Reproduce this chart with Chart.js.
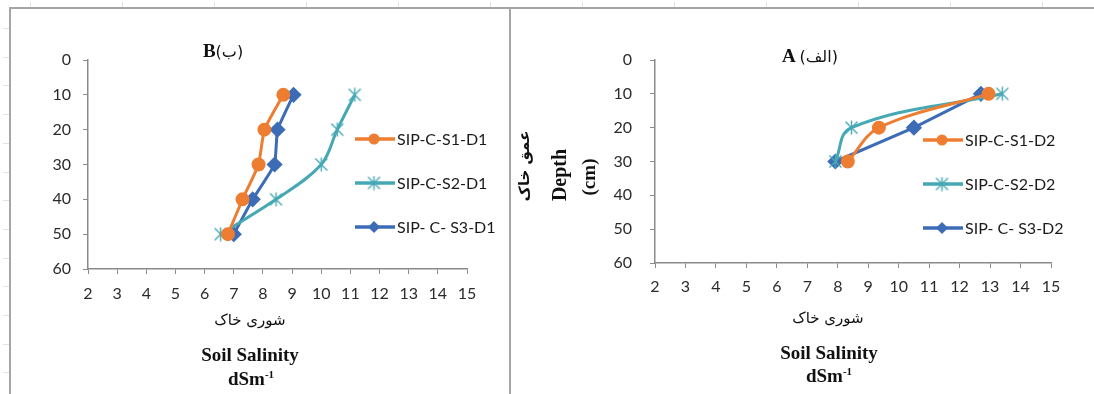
<!DOCTYPE html>
<html>
<head>
<meta charset="utf-8">
<script src="https://cdn.jsdelivr.net/npm/chart.js@4.4.1/dist/chart.umd.min.js"></script>
<style>
  body { margin: 0; width: 1094px; height: 394px; background: #fff; position: relative; overflow: hidden; font-family: "Liberation Serif", serif; }
  canvas { position: absolute; top: 0; }
  .lbl { position: absolute; transform: translate(-50%, -50%); white-space: nowrap; color: #111; line-height: 1; }
  .b { font-weight: bold; font-size: 19px; }
  .fa { font-family: "DejaVu Sans", sans-serif; font-size: 15px; }
  .par { font-family: "DejaVu Sans", sans-serif; font-size: 16px; font-weight: normal; }
  .rot { transform: translate(-50%, -50%) rotate(-90deg); }
  sup { font-size: 11px; vertical-align: 7px; line-height: 0; }
  .line { position: absolute; background: #a5a5a5; }
  .mark { position: absolute; background: #e2e2e2; }
</style>
</head>
<body>
<div class="line" style="left:9px; top:7px; width:1085px; height:2px;"></div>
<div class="line" style="left:9px; top:7px; width:2px; height:387px;"></div>
<div class="line" style="left:509px; top:7px; width:2px; height:387px;"></div>

<canvas id="chartB" width="510" height="394" style="left:0"></canvas>
<canvas id="chartA" width="583" height="394" style="left:511px"></canvas>

<!-- titles and axis labels -->
<div class="lbl b" style="left:223px; top:50px;">B<span class="par">(ب)</span></div>
<div class="lbl fa" style="left:250px; top:320px;">شوری خاک</div>
<div class="lbl b" style="left:250px; top:354px;">Soil Salinity</div>
<div class="lbl b" style="left:251px; top:378px;">dSm<sup>-1</sup></div>

<div class="lbl b" style="left:810px; top:55px;">A <span class="par">(الف)</span></div>
<div class="lbl fa" style="left:828px; top:318px;">شوری خاک</div>
<div class="lbl b" style="left:829px; top:352px;">Soil Salinity</div>
<div class="lbl b" style="left:829px; top:375px;">dSm<sup>-1</sup></div>

<div class="lbl fa rot" style="left:524px; top:166px; font-weight:bold;">عمق خاک</div>
<div class="lbl b rot" style="left:559px; top:175px; font-size:20px;">Depth</div>
<div class="lbl b rot" style="left:588px; top:177px;">(cm)</div>

<script>
// ===== Data =====
const salinityMin = 2, salinityMax = 15;
const depthMin = 0, depthMax = 60;

// panel B (D1)
const depthB = [10, 20, 30, 40, 50];
const s1B = [8.7, 8.05, 7.85, 7.3, 6.8];
const s2B = [11.15, 10.55, 10.0, 8.45, 6.55];
const s3B = [9.05, 8.5, 8.4, 7.65, 7.0];
const labelsB = ["SIP-C-S1-D1", "SIP-C-S2-D1", "SIP- C- S3-D1"];

// panel A (D2)
const depthA = [10, 20, 30];
const s1A = [12.95, 9.35, 8.33];
const s2A = [13.4, 8.45, 7.92];
const s3A = [12.7, 10.5, 7.92];
const labelsA = ["SIP-C-S1-D2", "SIP-C-S2-D2", "SIP- C- S3-D2"];

const ORANGE = "#ED7D31";
const TEAL = "#45A8B4";
const BLUE = "#3C6CB6";

// faint spreadsheet marks on the frame
for (let k = 0; k < 12; k++) {
  const m = document.createElement("div");
  m.className = "mark";
  m.style.cssText = `left:${30 + k * 92}px; top:2px; width:1px; height:5px;`;
  document.body.appendChild(m);
}
for (let k = 0; k < 13; k++) {
  const m = document.createElement("div");
  m.className = "mark";
  m.style.cssText = `left:3px; top:${28 + k * 28.7}px; width:6px; height:1px;`;
  document.body.appendChild(m);
}

// excel-like star marker (vertical line + X)
function starImage(color) {
  const c = document.createElement("canvas");
  c.width = 15; c.height = 15;
  const g = c.getContext("2d");
  g.strokeStyle = color; g.lineWidth = 1.4;
  g.beginPath();
  g.moveTo(7.5, 0.5); g.lineTo(7.5, 14.5);
  g.moveTo(1.5, 1.5); g.lineTo(13.5, 13.5);
  g.moveTo(13.5, 1.5); g.lineTo(1.5, 13.5);
  g.stroke();
  return c;
}
const tealStar = starImage(TEAL);

function pts(xs, ys) {
  return xs.map((x, i) => ({ x: x, y: ys[i] }));
}

function makeSets(labels, depth, a, b, c, tension) {
  return [
    { label: labels[0], data: pts(a, depth), borderColor: ORANGE, backgroundColor: ORANGE,
      pointStyle: "circle", pointRadius: 5.5, borderWidth: 3, tension: tension[0] },
    { label: labels[1], data: pts(b, depth), borderColor: TEAL, backgroundColor: TEAL,
      pointStyle: tealStar, pointRadius: 7, borderWidth: 3, tension: tension[1] },
    { label: labels[2], data: pts(c, depth), borderColor: BLUE, backgroundColor: BLUE,
      pointStyle: "rectRot", pointRadius: 6, borderWidth: 3, tension: tension[2] },
  ];
}

// ===== Legend drawn as line + marker, like the spreadsheet =====
const lineLegend = {
  id: "lineLegend",
  afterDraw(chart, args, opts) {
    const ctx = chart.ctx;
    chart.data.datasets.forEach((ds, i) => {
      const x = opts.left;
      const y = opts.top + i * opts.gap;
      ctx.save();
      ctx.strokeStyle = ds.borderColor;
      ctx.lineWidth = 3.5;
      ctx.beginPath();
      ctx.moveTo(x, y);
      ctx.lineTo(x + 40, y);
      ctx.stroke();
      const mx = x + 19;
      ctx.fillStyle = ds.borderColor;
      if (ds.pointStyle === "circle") {
        ctx.beginPath();
        ctx.arc(mx, y, 5.5, 0, Math.PI * 2);
        ctx.fill();
      } else if (ds.pointStyle === "rectRot") {
        ctx.beginPath();
        ctx.moveTo(mx, y - 6); ctx.lineTo(mx + 6, y); ctx.lineTo(mx, y + 6); ctx.lineTo(mx - 6, y);
        ctx.closePath();
        ctx.fill();
      } else {
        ctx.drawImage(ds.pointStyle, mx - 7.5, y - 7.5);
      }
      ctx.fillStyle = "#1a1a1a";
      ctx.font = "16px Lato";
      ctx.textBaseline = "middle";
      ctx.fillText(ds.label, x + 42, y + 1);
      ctx.restore();
    });
  },
};

function axes(yWidth, xHeight, yPad, xPad) {
  const tickFont = { family: "Lato", size: 16 };
  return {
    x: {
      type: "linear", min: salinityMin, max: salinityMax,
      ticks: { stepSize: 1, color: "#2b2b2b", font: tickFont, padding: xPad },
      grid: { drawOnChartArea: false, drawTicks: true, tickLength: 5, color: "#8a8a8a" },
      border: { color: "#8a8a8a", width: 1.5 },
      afterFit: (s) => { s.height = xHeight; },
    },
    y: {
      type: "linear", reverse: true, min: depthMin, max: depthMax,
      ticks: { stepSize: 10, color: "#2b2b2b", font: tickFont, padding: yPad },
      grid: { drawOnChartArea: false, drawTicks: true, tickLength: 5, color: "#8a8a8a" },
      border: { color: "#8a8a8a", width: 1.5 },
      afterFit: (s) => { s.width = yWidth; },
    },
  };
}

new Chart(document.getElementById("chartB"), {
  type: "scatter",
  data: { datasets: makeSets(labelsB, depthB, s1B, s2B, s3B, [0.15, 0.35, 0.1]) },
  options: {
    responsive: false,
    animation: false,
    showLine: true,
    layout: { padding: { top: 60, right: 43, left: 0, bottom: 0 } },
    scales: axes(88, 125, 12, 10),
    plugins: {
      legend: { display: false },
      tooltip: { enabled: false },
      lineLegend: { left: 355, top: 139, gap: 44 },
    },
  },
  plugins: [lineLegend],
});

new Chart(document.getElementById("chartA"), {
  type: "scatter",
  data: { datasets: makeSets(labelsA, depthA, s1A, s2A, s3A, [0.35, 0.4, 0]) },
  options: {
    responsive: false,
    animation: false,
    showLine: true,
    layout: { padding: { top: 60, right: 43, left: 0, bottom: 0 } },
    scales: axes(144, 131, 18, 9),
    plugins: {
      legend: { display: false },
      tooltip: { enabled: false },
      lineLegend: { left: 412, top: 140, gap: 44 },
    },
  },
  plugins: [lineLegend],
});
</script>
</body>
</html>
